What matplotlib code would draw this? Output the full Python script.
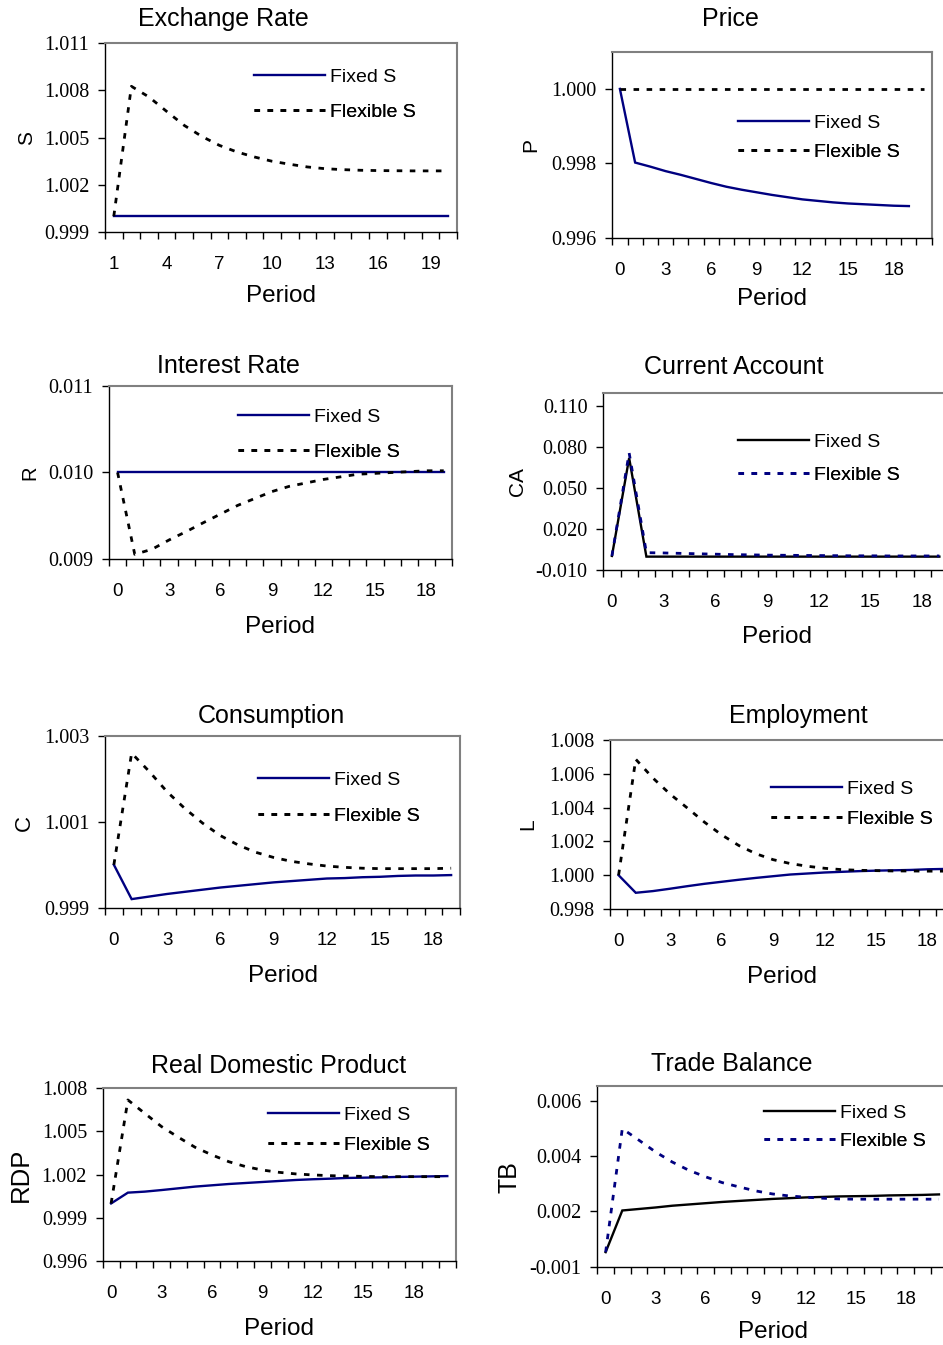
import numpy as np
import matplotlib
matplotlib.use("Agg")
import matplotlib.pyplot as plt

# ---- data ----
periods_1_20 = list(range(1, 21))
periods_0_19 = list(range(0, 20))
periods_0_20 = list(range(0, 21))

exch_fixed = [1.000] * 20
exch_flex = [1.00000, 1.00825, 1.00757, 1.00666, 1.00577, 1.00507, 1.00450, 1.00408,
             1.00376, 1.00349, 1.00330, 1.00313, 1.00302, 1.00296, 1.00292, 1.00290,
             1.00289, 1.00288, 1.00288, 1.00288]

price_fixed = [1.00000, 0.99802, 0.99791, 0.99779, 0.99769, 0.99758, 0.99747, 0.99737,
               0.99729, 0.99722, 0.99715, 0.99709, 0.99703, 0.99699, 0.99695, 0.99692,
               0.99690, 0.99688, 0.99686, 0.99685]
price_flex = [1.000] * 21

rate_fixed = [0.010] * 20
rate_flex = [0.01000, 0.009054, 0.009112, 0.00922, 0.009317, 0.00942, 0.00952, 0.00962,
             0.00970, 0.00978, 0.00984, 0.00988, 0.00992, 0.00995, 0.00998, 0.00999,
             0.01000, 0.01001, 0.01002, 0.01002]

ca_fixed = [0.0003, 0.0721, -0.0002, -0.0002, -0.0002, -0.0002, -0.0002, -0.0002,
            -0.0002, -0.0002, -0.0002, -0.0002, -0.0002, -0.0002, -0.0002, -0.0002,
            -0.0002, -0.0002, -0.0002, -0.0002]
ca_flex = [0.0003, 0.0758, 0.0027, 0.0025, 0.0022, 0.0019, 0.0016, 0.0013, 0.0011, 0.0009,
           0.0008, 0.0007, 0.0006, 0.0005, 0.0004, 0.0004, 0.0003, 0.0003, 0.0003, 0.0003]

cons_fixed = [1.00000, 0.99920, 0.99926, 0.99932, 0.99937, 0.99942, 0.99947, 0.99951,
              0.99955, 0.99959, 0.99962, 0.99965, 0.99968, 0.99969, 0.99971, 0.99972,
              0.99974, 0.99975, 0.99975, 0.99976]
cons_flex = [1.00000, 1.00260, 1.00217, 1.00170, 1.00131, 1.00097, 1.00068, 1.00046,
             1.00029, 1.00017, 1.00008, 1.00002, 0.99997, 0.99994, 0.99992, 0.99991,
             0.99991, 0.99991, 0.99991, 0.99992]

empl_fixed = [1.00000, 0.99896, 0.99906, 0.99920, 0.99935, 0.99949, 0.99961, 0.99973,
              0.99984, 0.99994, 1.00004, 1.00010, 1.00016, 1.00020, 1.00024, 1.00027,
              1.00029, 1.00031, 1.00035, 1.00037]
empl_flex = [1.00000, 1.00686, 1.00575, 1.00480, 1.00398, 1.00314, 1.00239, 1.00176,
             1.00127, 1.00092, 1.00069, 1.00053, 1.00041, 1.00033, 1.00029, 1.00027,
             1.00025, 1.00025, 1.00024, 1.00024]

rdp_fixed = [1.00000, 1.00075, 1.00082, 1.00093, 1.00105, 1.00117, 1.00126, 1.00135,
             1.00142, 1.00149, 1.00156, 1.00163, 1.00168, 1.00172, 1.00177, 1.00179,
             1.00181, 1.00184, 1.00186, 1.00188, 1.00190]
rdp_flex = [1.00000, 1.00719, 1.00626, 1.00534, 1.00460, 1.00390, 1.00337, 1.00290,
            1.00256, 1.00232, 1.00216, 1.00205, 1.00198, 1.00193, 1.00190, 1.00188,
            1.00186, 1.00186, 1.00186, 1.00186, 1.00186]

tb_fixed = [0.00008, 0.00174, 0.00180, 0.00186, 0.00193, 0.00198, 0.00203, 0.00208,
            0.00212, 0.00216, 0.00220, 0.00223, 0.00226, 0.00228, 0.00230, 0.00231,
            0.00232, 0.00234, 0.00235, 0.00236, 0.00238]
tb_flex = [0.00008, 0.00500, 0.00454, 0.00407, 0.00367, 0.00334, 0.00308, 0.00285,
           0.00268, 0.00252, 0.00240, 0.00232, 0.00227, 0.00223, 0.00220, 0.00219,
           0.00219, 0.00219, 0.00219, 0.00219, 0.00219]

# y tick values and their printed labels
exch_yticks = [0.999, 1.002, 1.005, 1.008, 1.011]
exch_ylabels = ["0.999", "1.002", "1.005", "1.008", "1.011"]
price_yticks = [0.996, 0.998, 1.000]
price_ylabels = ["0.996", "0.998", "1.000"]
rate_yticks = [0.009, 0.010, 0.011]
rate_ylabels = ["0.009", "0.010", "0.011"]
ca_yticks = [-0.010, 0.020, 0.050, 0.080, 0.110]
ca_ylabels = ["-0.010", "0.020", "0.050", "0.080", "0.110"]
cons_yticks = [0.999, 1.001, 1.003]
cons_ylabels = ["0.999", "1.001", "1.003"]
empl_yticks = [0.998, 1.000, 1.002, 1.004, 1.006, 1.008]
empl_ylabels = ["0.998", "1.000", "1.002", "1.004", "1.006", "1.008"]
rdp_yticks = [0.996, 0.999, 1.002, 1.005, 1.008]
rdp_ylabels = ["0.996", "0.999", "1.002", "1.005", "1.008"]
tb_yticks = [-0.0005, 0.0017, 0.0039, 0.0061]
tb_ylabels = ["-0.001", "0.002", "0.004", "0.006"]

W, H = 943, 1345
NAVY = "#000080"

plt.rcParams.update({"font.family": "Liberation Sans"})
fig = plt.figure(figsize=(W / 100, H / 100), dpi=100)


def fx(x):
    return x / W


def fy(y):
    return 1 - y / H


def draw_panel(box, ncat, x_fixed, fixed, x_flex, flex, fixed_color, flex_color,
               ylim, yticks, ylabels, title, title_xy, ylab, ylab_xy, ylab_size,
               period_xy, legend_x, legend_y):
    left, top, right, bottom = box
    ax = fig.add_axes([fx(left), fy(bottom), (right - left) / W, (bottom - top) / H])
    h1, = ax.plot(x_fixed, fixed, color=fixed_color, lw=1.7, solid_joinstyle="miter")
    h2, = ax.plot(x_flex, flex, color=flex_color, lw=2.0, ls=(0, (2.0, 2.7)))

    x0 = min(x_fixed[0], x_flex[0])
    ax.set_xlim(x0 - 0.5, x0 - 0.5 + ncat)
    ax.set_ylim(*ylim)

    ax.set_xticks(np.arange(x0, x0 + ncat, 3),
                  labels=[str(v) for v in np.arange(x0, x0 + ncat, 3)], fontsize=13.5)
    ax.set_xticks(np.arange(x0 - 0.5, x0 + ncat, 1), minor=True)
    ax.tick_params(axis="x", which="major", length=0, pad=17.3)
    ax.tick_params(axis="x", which="minor", length=4.8, width=1, direction="out")
    ax.set_yticks(yticks, labels=ylabels, fontfamily="Liberation Serif", fontsize=14.5)
    ax.tick_params(axis="y", length=4.8, width=1, direction="out", pad=6.5)

    for s in ["top", "right"]:
        ax.spines[s].set_color("#808080")
        ax.spines[s].set_linewidth(1.5)
    for s in ["left", "bottom"]:
        ax.spines[s].set_color("black")
        ax.spines[s].set_linewidth(1.0)

    fs = 14
    fpx = fs * 100 / 72
    for handle, label, ly in [(h1, "Fixed S", legend_y[0]), (h2, "Flexible S", legend_y[1])]:
        leg = ax.legend([handle], [label], loc="center left",
                        bbox_to_anchor=(fx(legend_x), fy(ly)), bbox_transform=fig.transFigure,
                        frameon=False, borderpad=0, borderaxespad=0,
                        handlelength=71 / fpx, handletextpad=5 / fpx, fontsize=fs)
        ax.add_artist(leg)

    fig.text(fx(title_xy[0]), fy(title_xy[1]), title, ha="center", va="baseline", fontsize=18)
    fig.text(fx(period_xy[0]), fy(period_xy[1]), "Period", ha="center", va="baseline", fontsize=17.5)
    fig.text(fx(ylab_xy[0]), fy(ylab_xy[1]), ylab, rotation=90, rotation_mode="anchor",
             ha="center", va="baseline", fontsize=ylab_size)
    return ax


draw_panel((105, 43, 457, 232), 20, periods_1_20, exch_fixed, periods_1_20, exch_flex,
           NAVY, "black", (0.999, 1.011), exch_yticks, exch_ylabels,
           "Exchange Rate", (223, 26), "S", (31.7, 138.3), 15, (281, 301.7),
           254, (76.7, 111.7))

draw_panel((612.3, 51.7, 931.7, 237.7), 21, periods_0_19, price_fixed, periods_0_20, price_flex,
           NAVY, "black", (0.996, 1.001), price_yticks, price_ylabels,
           "Price", (730.8, 26), "P", (536.7, 145.3), 15, (772, 305),
           738.3, (122.7, 151.7))

draw_panel((109, 386, 452.3, 559), 20, periods_0_19, rate_fixed, periods_0_19, rate_flex,
           NAVY, "black", (0.009, 0.011), rate_yticks, rate_ylabels,
           "Interest Rate", (228.3, 373.3), "R", (35, 472.7), 14.5, (280.3, 632.7),
           238.3, (416.7, 452.3))

draw_panel((603.3, 392.7, 948, 570), 20, periods_0_19, ca_fixed, periods_0_19, ca_flex,
           "black", NAVY, (-0.010, 0.120), ca_yticks, ca_ylabels,
           "Current Account", (734, 374), "CA", (523.3, 481.7), 15, (776.7, 642.7),
           737.7, (441.7, 475))

draw_panel((105, 736, 460, 907.7), 20, periods_0_19, cons_fixed, periods_0_19, cons_flex,
           NAVY, "black", (0.999, 1.003), cons_yticks, cons_ylabels,
           "Consumption", (271.7, 723.3), "C", (30, 822.7), 16, (282.7, 982),
           258.3, (780, 816))

draw_panel((610, 740, 953.3, 909), 20, periods_0_19, empl_fixed, periods_0_19, empl_flex,
           NAVY, "black", (0.998, 1.008), empl_yticks, empl_ylabels,
           "Employment", (798.3, 722.7), "L", (533.3, 824), 15, (781.7, 982.7),
           771, (789.3, 819.3))

draw_panel((102.7, 1088.3, 455.7, 1261), 21, periods_0_20, rdp_fixed, periods_0_20, rdp_flex,
           NAVY, "black", (0.996, 1.008), rdp_yticks, rdp_ylabels,
           "Real Domestic Product", (278.3, 1073.3), "RDP", (28.3, 1175), 18.5, (279.5, 1335),
           267.7, (1115, 1145))

draw_panel((597.3, 1086, 947.3, 1266.7), 21, periods_0_20, tb_fixed, periods_0_20, tb_flex,
           "black", NAVY, (-0.0005, 0.0067), tb_yticks, tb_ylabels,
           "Trade Balance", (732, 1071), "TB", (516.7, 1176.7), 18, (773, 1338.3),
           764.3, (1112.7, 1141))

fig.savefig("out.png", dpi=100)
